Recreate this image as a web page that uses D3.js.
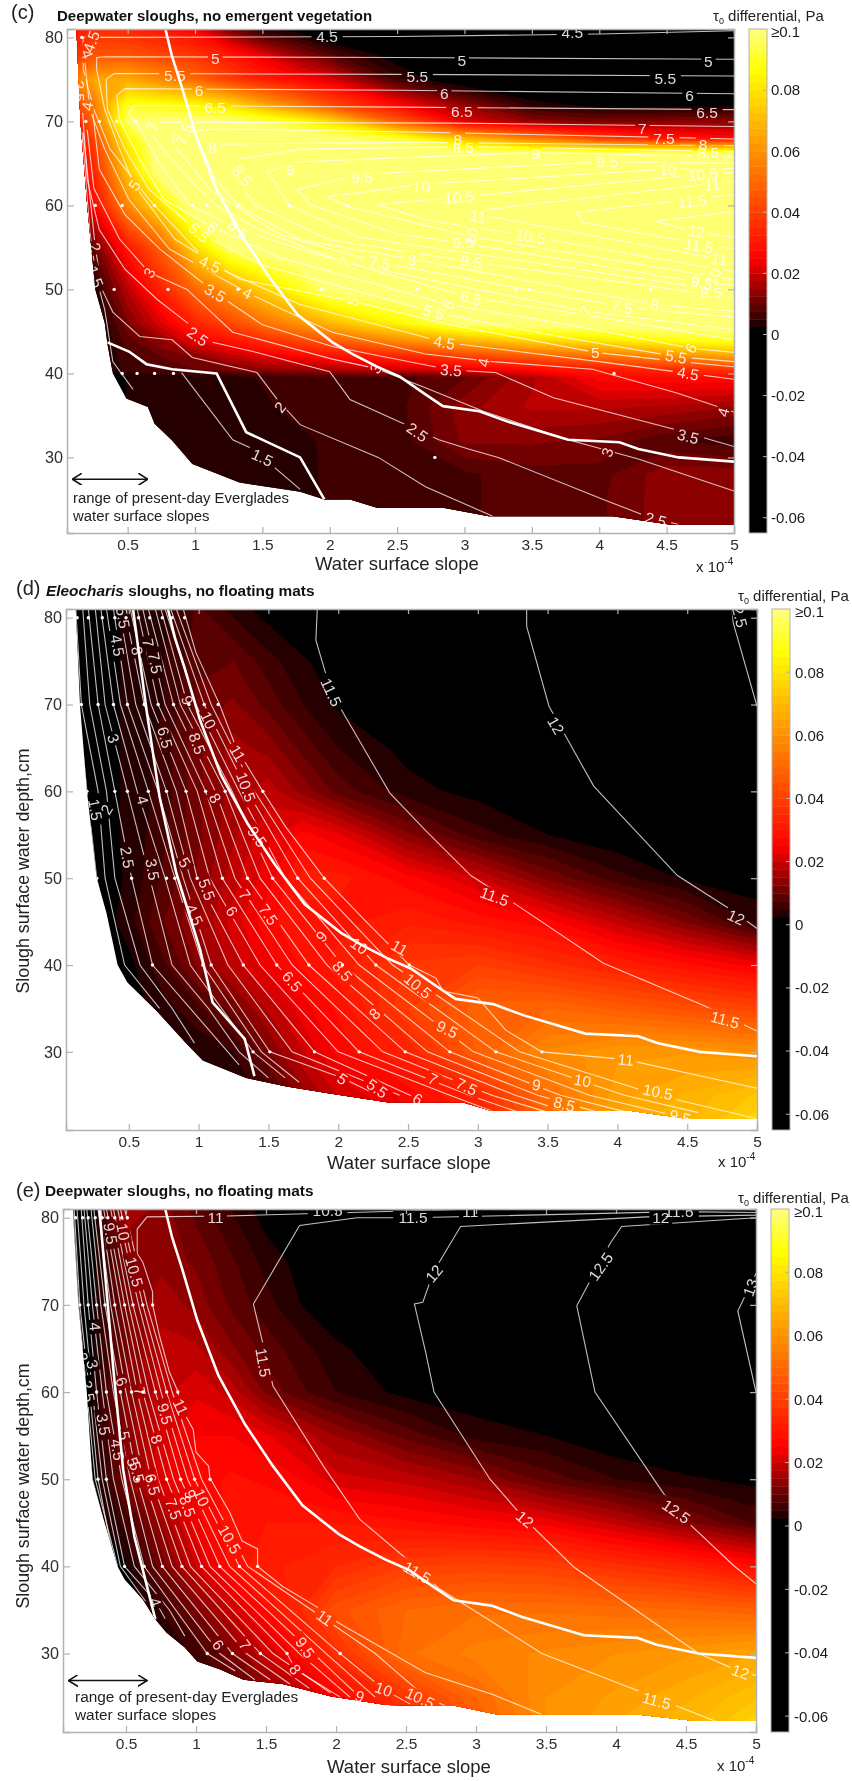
<!DOCTYPE html>
<html>
<head>
<meta charset="utf-8">
<script src="https://cdn.jsdelivr.net/npm/d3@7"></script>
<style>
html, body { margin: 0; background: #fff; }
svg { display: block; font-family: "Liberation Sans", Arial, sans-serif; filter: blur(0.45px); }
</style>
</head>
<body>
<div id="chart"></div>
<script>
const slopeTicks = [0.5, 1, 1.5, 2, 2.5, 3, 3.5, 4, 4.5, 5];
const depthTicks = [30, 40, 50, 60, 70, 80];
const colorTicks = [-0.06, -0.04, -0.02, 0, 0.02, 0.04, 0.06, 0.08];

// differential grids are in Pa x 1000
const gridSlopes = [0.1, 0.25, 0.5, 0.75, 1, 1.25, 1.5, 1.75, 2, 2.5, 3, 3.5, 4, 4.5, 5];
const cGridDepths = [81, 78, 75, 72, 70, 68, 66, 64, 60, 55, 50, 46, 44, 42, 40.5, 39.5, 36, 32, 28, 25, 21];
const cGrid = [
    [30, 36, 34, 30, 25, 12, 3, 1, -5, -5, -5, -5, -5, -5, -5],
    [35, 44, 45, 41, 37, 30, 22, 14, 8, 0, -5, -5, -5, -5, -5],
    [55, 65, 66, 58, 50, 40, 32, 27, 22, 6, -2, -5, -5, -5, -5],
    [40, 55, 90, 88, 85, 78, 66, 55, 43, 26, 14, 4, 1, 1, 1],
    [28, 50, 98, 100, 100, 100, 95, 88, 78, 48, 22, 14, 12, 13, 14],
    [25, 42, 85, 105, 105, 105, 105, 105, 100, 92, 70, 55, 40, 30, 27],
    [22, 36, 78, 105, 105, 105, 105, 105, 105, 105, 105, 105, 105, 105, 105],
    [20, 34, 72, 105, 105, 105, 105, 105, 105, 105, 105, 105, 105, 105, 105],
    [16, 26, 58, 80, 105, 105, 105, 105, 105, 105, 105, 105, 105, 105, 105],
    [4, 10, 30, 48, 78, 98, 105, 105, 105, 105, 105, 105, 105, 105, 105],
    [0, 3, 18, 33, 50, 62, 75, 88, 100, 105, 105, 105, 105, 105, 105],
    [0, 0, 12, 22, 33, 42, 52, 60, 70, 85, 100, 103, 105, 105, 105],
    [0, 0, 9, 15, 24, 30, 36, 42, 48, 60, 70, 78, 82, 88, 92],
    [0, 0, 7, 10, 13, 18, 22, 25, 28, 33, 40, 46, 52, 58, 64],
    [0, 0, 6, 8, 10, 12, 14, 15, 17, 20, 23, 27, 31, 35, 38],
    [0, 0, 2.6, 3, 3, 3, 5.5, 6.5, 6.5, 6.5, 10, 17, 26, 27, 27],
    [0, 0, 2.6, 3, 3, 3, 4, 6.5, 6.5, 6.5, 14, 18, 18, 17, 15],
    [0, 0, 3, 3, 3, 3, 3, 3.5, 6, 6, 13, 13, 12, 8, 6],
    [3, 3, 3, 3, 3, 3, 3, 3, 6, 6.5, 7, 9, 9, 14, 14],
    [3, 3, 3, 3, 3, 3, 3, 3, 6, 6.5, 7, 9, 9.5, 14, 14],
    [3, 3, 3, 3, 3, 3, 3, 3, 6, 6.5, 7, 9, 9.5, 14, 14]
];
const dGridDepths = [81, 75, 70, 65, 60, 55, 50, 45, 40, 35, 30, 25, 21];
const dGrid = [
    [0, 1, 3, 4, 8, 4, 1, -2, -5, -5, -5, -5, -5, -5, -5],
    [0, 1, 3, 5, 9, 10, 6, 3, 0.5, -5, -5, -5, -5, -5, -5],
    [0, 1, 3, 5, 11, 13, 9, 5, 2, -1, -5, -5, -5, -5, -5],
    [0, 1, 3, 6, 12, 16, 14, 9, 5, 1.5, -2, -5, -5, -5, -5],
    [0, 1, 3, 6, 12, 16, 19, 14, 9, 3.5, 1.5, -2, -5, -5, -5],
    [0, 1, 3, 7, 12, 17, 22, 26, 23, 13, 6, 2.5, 0, -2, -3],
    [0, 0, 3, 8, 13, 19, 24, 31, 31, 26, 20, 12, 6, 2, 1],
    [0, 0, 4, 10, 15, 21, 27, 29, 29, 32, 29, 26, 19, 12, 4],
    [0, -1, 1.5, 7, 13, 19, 24, 28, 31, 38, 40, 36, 32, 28, 24],
    [0, 0, 1, 4, 7, 11, 18, 24, 28, 40, 49, 50, 47, 44, 41],
    [0, 0, 0, 1, 3, 5, 12, 20, 26, 33, 48, 58, 62, 62, 60],
    [0, 0, 0, 0, 2, 3, 6, 14, 20, 26, 34, 52, 64, 68, 73],
    [0, 0, 0, 0, 2, 3, 6, 12, 18, 24, 30, 50, 66, 70, 78]
];
const eGridDepths = dGridDepths;
const eGrid = [
    [0, 1, 17, 14, 9, 5, 1, -3, -5, -5, -5, -5, -5, -5, -5],
    [0, 1, 12, 14, 12, 8, 4, 1.5, -1, -5, -5, -5, -5, -5, -5],
    [0, 1.5, 12, 17, 14, 9.5, 6, 2.5, 0.5, -2, -5, -5, -5, -5, -5],
    [0, 1.5, 12, 18, 18, 13, 9, 6, 3, 0.5, -3, -5, -5, -5, -5],
    [0, 2, 13, 19, 22, 19, 12, 8, 5, 1.5, 0.5, -3, -5, -5, -5],
    [0, 2, 13, 21, 25, 25, 23, 19, 15, 9, 4, 2.5, 0, -2, -4],
    [0, 0, 12, 22, 26, 28, 27, 25, 21, 19, 15, 9, 5, 3, 1.5],
    [0, 0, 6, 15, 24, 29, 30, 30, 30, 28, 26, 24, 19, 13, 7],
    [0, 0, 2, 11, 20, 28, 32, 33, 35, 40, 41, 40, 36, 33, 28],
    [0, 0, 0, 5, 12, 20, 27, 35, 44, 50, 52, 52, 51, 50, 48],
    [0, 0, 0, 1, 6, 12, 20, 27, 36, 52, 56, 58, 60, 62, 65],
    [0, 0, 0, 0, 3, 7, 12, 18, 26, 38, 50, 60, 63, 67, 72],
    [0, 0, 0, 0, 3, 6, 10, 16, 20, 32, 46, 60, 66, 70, 78]
];

// edge of the computed region, [slope, depth]
const cEdge = [[0.12, 81], [0.15, 70], [0.2, 60], [0.26, 50], [0.33, 46], [0.35, 43.5], [0.39, 40], [0.49, 37], [0.65, 36], [0.7, 34], [0.83, 32], [0.98, 29.2], [1.33, 27], [1.78, 25.9], [1.96, 25], [2.15, 25], [2.35, 24], [2.84, 24], [3.18, 23], [4.1, 23], [4.52, 22], [5, 22], [5, 81]];
const dEdge = [[0.12, 81], [0.15, 70], [0.2, 60], [0.27, 50], [0.34, 46], [0.42, 40], [0.49, 38], [0.7, 34.7], [0.91, 31], [1.03, 29], [1.34, 27], [1.63, 26], [1.94, 25.2], [2.35, 24.2], [2.89, 24.2], [3.1, 23.2], [4.1, 23.2], [4.5, 22.3], [5, 22.3], [5, 81]];
const eEdge = [[0.12, 81], [0.16, 70], [0.22, 60], [0.26, 50], [0.34, 45.4], [0.44, 40], [0.49, 38.5], [0.62, 36.2], [0.71, 33.9], [0.79, 32.4], [0.92, 30.7], [1.01, 29.1], [1.17, 28.2], [1.34, 27], [1.62, 26.5], [1.96, 25.1], [2.36, 24.1], [2.85, 24], [3.15, 23], [4.15, 23], [4.55, 22.3], [5, 22.3], [5, 81]];

// heavy white lines
const sharedHeavyLine = [[0.78, 81], [0.83, 77.7], [0.9, 74.2], [1.01, 68.2], [1.16, 61.9], [1.35, 56.3], [1.55, 51.5], [1.76, 47], [2.02, 43.7], [2.17, 42.3], [2.35, 40.8], [2.52, 39.6], [2.71, 37.5], [2.84, 36.1], [3.11, 35.5], [3.33, 34.2], [3.77, 32.1], [4.15, 31.8], [4.29, 31], [4.59, 30], [5, 29.5]];
const cHeavyLine = [[0.35, 43.7], [0.51, 42.6], [0.64, 41.1], [0.83, 40.5], [1.16, 40], [1.38, 33], [1.78, 30], [1.96, 25]];
const dHeavyLine = [[0.53, 81], [0.63, 69], [0.72, 59.4], [0.84, 50.6], [1.01, 41.8], [1.1, 35.7], [1.33, 31.5], [1.4, 27.2]];
const eHeavyLine = [[0.31, 81], [0.41, 62.6], [0.48, 51.1], [0.56, 43.4], [0.65, 37.7], [0.71, 33.9]];

// thin contours: velocity level, then [slope, depth] vertices
const cContours = [
    [1.5, [[0.16, 68.7], [0.22, 56.8], [0.27, 51.2], [0.33, 47.6], [0.39, 41.4], [0.54, 38.1]]],
    [1.5, [[0.9, 40.1], [1.28, 32.1], [1.43, 31], [1.78, 26.2]]],
    [2, [[0.17, 68.7], [0.26, 55], [0.31, 50], [0.39, 47.3], [0.59, 44.4], [0.83, 44], [0.98, 41.9], [1.46, 40.1], [1.61, 36.9], [1.78, 33.9], [2.36, 30], [2.71, 26.5], [3.21, 23]]],
    [2.5, [[0.16, 72.6], [0.2, 63.1], [0.29, 57.1], [0.48, 52.4], [0.72, 48.8], [0.96, 45.8], [1.13, 43.7], [1.43, 42.6], [2, 40.2], [2.15, 36.9], [2.59, 33.7], [2.81, 32.1], [3.03, 31], [3.25, 30], [4.03, 25], [4.35, 23], [4.59, 22]]],
    [3, [[0.2, 69], [0.25, 62], [0.44, 56], [0.66, 52], [0.94, 50], [1.28, 44.9], [2.02, 41.7], [2.34, 40.6], [2.71, 38.3], [3.14, 35.5], [3.77, 32.1], [4.29, 29.8], [5, 26]]],
    [3.5, [[0.23, 72.6], [0.29, 64.3], [0.48, 58.9], [0.74, 54.8], [1.15, 49.6], [1.5, 45.8], [2.02, 43.2], [2.9, 40.4], [3.23, 40.1], [3.66, 37.1], [4.57, 33.3], [5, 31.3]]],
    [4, [[0.18, 77.4], [0.22, 71.4], [0.33, 66.7], [0.51, 60.7], [0.81, 54.8], [1.39, 49.6], [1.65, 47.6], [2.02, 44.9], [2.71, 42.3], [3.21, 41.4], [3.95, 40.5], [4.57, 37.7], [5, 35.4]]],
    [4.5, [[5, 80.8], [4, 80.4], [2.5, 80.1], [0.29, 80], [0.17, 80], [0.17, 76.2], [0.25, 71.4], [0.37, 66.7], [0.66, 60.7], [1.11, 53], [1.78, 48.2], [2.85, 43.7], [4, 41.4], [4.66, 40], [5, 39.3]]],
    [5, [[5, 77.4], [2.52, 77.6], [0.33, 77.7], [0.27, 77.6], [0.27, 76.2], [0.33, 71.4], [0.44, 66.7], [0.55, 62.4], [0.85, 56], [1.33, 51.2], [2.17, 48.6], [2.89, 45.8], [3.97, 42.5], [4.6, 41.4], [5, 40.8]]],
    [5.5, [[5, 75.4], [2.52, 75.6], [0.4, 75.7], [0.34, 75], [0.35, 71.4], [0.48, 66.7], [0.66, 61.9], [1.03, 56.8], [1.48, 53], [2.77, 47.3], [3.63, 44.6], [4.57, 42], [5, 41.4]]],
    [6, [[5, 73.3], [2.52, 73.7], [0.48, 73.9], [0.42, 73.1], [0.44, 70.2], [0.59, 65.5], [0.77, 60.7], [1.13, 57.4], [1.63, 53.8], [2.88, 48.2], [3.78, 45.8], [4.68, 43], [5, 42.5]]],
    [6.5, [[5, 71.4], [2.52, 71.7], [0.55, 71.9], [0.5, 70.8], [0.56, 70], [0.74, 64.9], [0.96, 60.1], [1.33, 57.1], [1.78, 54.8], [3.05, 49], [4, 46.7], [5, 44]]],
    [7, [[5, 69.4], [2.89, 69.8], [0.66, 69.9], [0.7, 67.9], [0.96, 63.1], [1.15, 60.1], [1.48, 57.1], [2.11, 53.2], [3.9, 47.4], [5, 45.2]]],
    [7.5, [[5, 67.9], [4.49, 68.1], [2.71, 68.7], [1.15, 69.1], [0.85, 68.5], [0.83, 67.5], [1.11, 61.9], [1.63, 56.5], [2.37, 53.2], [4.17, 47.9], [5, 46.7]]],
    [8, [[5, 67.1], [2.71, 67.5], [1.16, 67.3], [1.07, 66.1], [1.15, 63.1], [1.32, 60], [1.78, 55.9], [2.61, 53.6], [4.41, 48.2], [5, 47.4]]],
    [8.5, [[5, 66.4], [3.05, 67], [1.78, 66.7], [1.33, 65.5], [1.3, 63.7], [1.44, 60.1], [2, 55.9], [3.05, 53.3], [4.83, 49.4], [5, 49]]],
    [9, [[5, 65.8], [3.52, 66.3], [1.78, 65.2], [1.54, 64], [1.7, 60], [2.22, 56.2], [3.26, 53.8], [4.84, 50], [5, 49.8]]],
    [9.5, [[5, 65], [4.06, 65.2], [2.24, 63.7], [1.76, 61.9], [1.85, 60.1], [2.52, 56.5], [2.96, 55.6], [4.76, 50.8], [5, 50.5]]],
    [10, [[5, 64.4], [4.49, 64.3], [2.67, 62.5], [1.98, 61], [2.15, 59.8], [3.05, 56.3], [4.85, 51.5], [5, 51.2]]],
    [10.5, [[5, 63.9], [4.77, 63.7], [2.96, 61], [2.35, 60.1], [2.71, 58.3], [3.49, 56.3], [5, 52.1]]],
    [11, [[5, 62.9], [3.16, 59.5], [3.08, 59], [3.18, 58.7], [4.89, 53.6], [5, 53.2]]],
    [11.5, [[5, 61.3], [3.83, 59.2], [3.88, 58], [4.74, 55.4], [5, 54.8]]],
    [12, [[5, 59.3], [4.42, 58.1], [4.7, 56.9], [5, 56.2]]]
];
const dContours = [
    [1.5, [[0.11, 81], [0.14, 70], [0.2, 60], [0.27, 50], [0.4, 40]]],
    [2, [[0.12, 81], [0.16, 70], [0.28, 60], [0.33, 50], [0.47, 40], [0.72, 35]]],
    [2.5, [[0.17, 81], [0.22, 70], [0.34, 60], [0.4, 50], [0.58, 40], [0.81, 35], [0.97, 31]]],
    [3, [[0.21, 81], [0.28, 70], [0.4, 60], [0.52, 50], [0.67, 40], [0.94, 35], [1.29, 28.5]]],
    [3.5, [[0.26, 81], [0.33, 70], [0.49, 60], [0.65, 50], [0.81, 40], [1.07, 35], [1.29, 30], [1.5, 27]]],
    [4, [[0.3, 81], [0.39, 70], [0.56, 60], [0.76, 50], [0.94, 40], [1.39, 30], [1.62, 27]]],
    [4.5, [[0.34, 81], [0.44, 70], [0.64, 60], [0.83, 50], [1.03, 40], [1.45, 30], [1.72, 26.5]]],
    [5, [[0.39, 81], [0.49, 70], [0.71, 60], [0.89, 50], [1.09, 40], [1.51, 30], [2.03, 27], [2.22, 25.5]]],
    [5.5, [[0.43, 81], [0.55, 70], [0.77, 60], [0.94, 50], [1.21, 40], [1.67, 30], [2.44, 25]]],
    [6, [[0.47, 81], [0.61, 70], [0.84, 60], [0.99, 50], [1.32, 40], [1.83, 30], [2.57, 24.6]]],
    [6.5, [[0.51, 81], [0.66, 70], [0.91, 60], [1.08, 50], [1.44, 40], [2, 30], [2.8, 25], [3.1, 23.2]]],
    [7, [[0.56, 81], [0.71, 70], [0.99, 60], [1.17, 50], [1.56, 40], [2.15, 30], [2.94, 25], [3.3, 23]]],
    [7.5, [[0.6, 81], [0.76, 70], [1.05, 60], [1.26, 50], [1.67, 40], [2.32, 30], [3.1, 25], [3.51, 23]]],
    [8, [[0.64, 81], [0.82, 70], [1.12, 60], [1.35, 50], [1.79, 40], [2.48, 30], [3.27, 25], [3.65, 23]]],
    [8.5, [[0.69, 81], [0.87, 70], [1.19, 60], [1.44, 50], [1.92, 40], [2.64, 30], [3.43, 25], [3.87, 23]]],
    [9, [[0.73, 81], [0.92, 70], [1.24, 60], [1.53, 50], [2.03, 40], [2.8, 30], [3.59, 25], [4.08, 23]]],
    [9.5, [[0.76, 81], [0.98, 70], [1.29, 60], [1.62, 50], [2.15, 40], [2.97, 30], [3.8, 25], [4.45, 22.5]]],
    [10, [[0.8, 81], [1.04, 70], [1.35, 60], [1.71, 50], [2.27, 40], [3.13, 30], [4.05, 25], [4.58, 23]]],
    [10.5, [[0.84, 81], [1.09, 70], [1.4, 60], [1.8, 50], [2.39, 40], [3.3, 30], [4.29, 25], [5, 22.3]]],
    [11, [[0.89, 81], [0.98, 76], [1.15, 70], [1.27, 65], [1.46, 60], [1.62, 56], [1.9, 50], [2.2, 45], [2.51, 40], [2.7, 38.5], [2.75, 37], [3, 36.2], [3.2, 32.5], [3.46, 30], [4.06, 29.1], [5, 25.8]]],
    [11.5, [[1.85, 81], [1.84, 77.4], [1.95, 71.4], [2.37, 59.8], [2.62, 55.6], [2.95, 50.3], [3.28, 46.9], [3.9, 40.2], [4.61, 35.4], [5, 32.4]]],
    [12, [[3.35, 81], [3.35, 79], [3.51, 69.8], [3.83, 60.6], [4.43, 50.3], [4.83, 46.2], [5, 44.2]]],
    [12.5, [[4.82, 81], [4.83, 79.4], [5, 69.8]]]
];
const eContours = [
    [2, [[0.11, 81], [0.14, 70], [0.2, 60], [0.26, 50], [0.42, 40]]],
    [2.5, [[0.12, 81], [0.16, 70], [0.22, 60], [0.28, 50], [0.44, 40]]],
    [3, [[0.13, 81], [0.17, 70], [0.24, 60], [0.3, 50], [0.42, 40]]],
    [3.5, [[0.15, 81], [0.2, 70], [0.26, 60], [0.33, 50], [0.46, 40], [0.64, 36]]],
    [4, [[0.18, 81], [0.23, 70], [0.29, 60], [0.36, 50], [0.49, 40], [0.71, 36], [0.78, 34]]],
    [4.5, [[0.2, 81], [0.26, 70], [0.33, 60], [0.41, 50], [0.56, 40], [0.81, 35], [0.92, 32]]],
    [5, [[0.22, 81], [0.29, 70], [0.36, 60], [0.47, 50], [0.63, 40], [1.08, 30], [1.28, 28]]],
    [5.5, [[0.25, 81], [0.32, 70], [0.41, 60], [0.53, 50], [0.69, 40], [1.17, 30], [1.42, 27]]],
    [6, [[0.27, 81], [0.35, 70], [0.46, 60], [0.58, 50], [0.76, 40], [1.26, 30], [1.53, 27]]],
    [6.5, [[0.3, 81], [0.39, 70], [0.5, 60], [0.63, 50], [0.83, 40], [1.36, 30], [1.67, 26.5]]],
    [7, [[0.32, 81], [0.42, 70], [0.54, 60], [0.68, 50], [0.9, 40], [1.46, 30], [1.81, 26]]],
    [7.5, [[0.34, 81], [0.46, 70], [0.58, 60], [0.73, 50], [0.96, 40], [1.55, 30], [1.96, 25.5]]],
    [8, [[0.36, 81], [0.49, 70], [0.62, 60], [0.79, 50], [1.04, 40], [1.65, 30], [1.71, 28.2], [2.03, 25]]],
    [8.5, [[0.39, 81], [0.52, 70], [0.66, 60], [0.84, 50], [1.1, 40], [1.74, 30], [2.1, 25]]],
    [9, [[0.41, 81], [0.55, 70], [0.71, 60], [0.89, 50], [1.17, 40], [1.84, 30], [2.17, 25]]],
    [9.5, [[0.44, 81], [0.59, 70], [0.75, 60], [0.94, 50], [1.24, 40], [1.93, 30], [2.28, 25]]],
    [10, [[0.46, 81], [0.62, 70], [0.79, 60], [0.99, 50], [1.31, 40], [2.03, 30], [2.34, 25.9], [2.53, 24.2]]],
    [10.5, [[0.49, 81], [0.65, 70], [0.83, 60], [1.04, 50], [1.37, 40], [2.28, 30], [2.64, 25], [2.78, 24]]],
    [11, [[3, 81], [1.22, 80.2], [0.65, 80.1], [0.58, 78.7], [0.58, 75.9], [0.62, 74.9], [0.69, 71.5], [0.69, 70], [0.74, 66.4], [0.81, 62.3], [0.87, 60.1], [0.89, 58.3], [0.98, 55.7], [1, 53.1], [1.09, 51.5], [1.1, 50.1], [1.24, 46.2], [1.33, 42.9], [1.44, 42], [1.44, 40], [1.62, 37.7], [1.89, 35.1], [2.01, 33.6], [2.64, 27.8], [3.12, 25.3], [3.47, 23]]],
    [11.5, [[5, 80.6], [4.45, 80.7], [2.55, 80], [2.15, 80], [1.74, 79.1], [1.41, 70.1], [1.47, 66.1], [1.55, 60.7], [1.91, 51.5], [2.17, 45.4], [2.53, 40.5], [2.74, 37.4], [3.1, 33.8], [3.47, 30], [4.13, 25.9], [4.78, 21.8]]],
    [12, [[5, 80.3], [4.22, 80.1], [2.89, 79], [2.7, 73.9], [2.62, 70.3], [2.56, 70.1], [2.64, 64.6], [2.7, 60], [3.1, 50], [3.35, 45.4], [3.7, 39.9], [4.59, 30], [4.89, 27.9], [5, 27.5]]],
    [12.5, [[5, 80], [4.04, 79], [3.96, 77.1], [3.72, 69.9], [3.85, 60], [4.3, 49.3], [4.43, 46.3], [4.84, 40.1], [5, 38]]],
    [13, [[5, 73.6], [4.87, 69.3], [5, 60]]]
];

// contour labels: text, slope, depth, rotation
const cLabels = [
    ["4.5", 1.98, 80.1, 0], ["4.5", 3.8, 80.6, 0], ["5", 1.15, 77.5, 0], ["5", 2.98, 77.3, 0], ["5", 4.81, 77.1, 0],
    ["5.5", 0.85, 75.5, 0], ["5.5", 2.65, 75.4, 0], ["5.5", 4.49, 75.1, 0], ["6", 1.03, 73.7, 0], ["6", 2.85, 73.3, 0], ["6", 4.67, 73.1, 0],
    ["6.5", 1.15, 71.7, 0], ["6.5", 2.98, 71.2, 0], ["6.5", 4.8, 71.1, 0], ["7", 0.68, 69.4, -70], ["7", 4.32, 69.2, 0],
    ["7.5", 4.48, 68, 0], ["7.5", 0.92, 68.5, -65], ["8", 1.13, 66.9, 0], ["8", 2.95, 67.9, 0], ["8", 4.77, 67.3, 0],
    ["8.5", 2.99, 66.9, 0], ["8.5", 4.81, 66.3, 0], ["8.5", 1.35, 63.5, 50], ["9", 1.71, 64.3, 0], ["9", 3.53, 66.2, 0],
    ["9.5", 2.24, 63.3, 0], ["9.5", 4.06, 65.2, 0], ["10", 2.68, 62.3, 0], ["10", 4.51, 64.3, 0], ["10.5", 2.96, 61, -3], ["10.5", 4.77, 63.7, -5],
    ["11", 3.1, 58.7, 10], ["11", 4.84, 62.5, -5], ["11.5", 4.69, 60.5, -5], ["12", 4.72, 56.9, 10], ["11.5", 4.74, 55.2, 10], ["10.5", 3.49, 56.3, 8],
    ["10", 3.05, 56.3, -75], ["9.5", 2.99, 55.6, 0], ["11", 4.89, 53.6, 10], ["10", 4.85, 51.5, -70], ["9.5", 4.76, 50.8, 10], ["8.5", 4.83, 49.6, 0],
    ["8.5", 3.05, 53.3, 10], ["8", 2.61, 53.6, 0], ["8", 4.41, 48.2, 8], ["7.5", 2.37, 53.2, 10], ["7.5", 4.17, 47.9, 10], ["7", 2.11, 53.2, -60], ["7", 3.9, 47.4, -60],
    ["6.5", 3.05, 49, 15], ["6", 2.88, 48.2, -60], ["6", 4.68, 43, -60], ["5.5", 2.77, 47.3, 15], ["5.5", 4.57, 42, 10], ["5", 2.17, 48.6, -70], ["5", 3.97, 42.5, 0], ["5", 0.55, 62.4, -55],
    ["5.5", 1.03, 56.8, 40], ["6", 1.13, 57.4, 40], ["6.5", 1.32, 57.1, 40], ["4.5", 1.11, 53, 25], ["4.5", 2.85, 43.7, 10], ["4.5", 4.66, 40, 10],
    ["4", 1.39, 49.6, 30], ["4", 3.14, 41.3, -80], ["4", 4.92, 35.4, -75], ["3.5", 1.15, 49.6, 30], ["3.5", 2.9, 40.4, 5], ["3.5", 4.66, 32.5, 15],
    ["3", 0.66, 52, -60], ["3", 2.34, 40.6, -60], ["3", 4.06, 30.6, -70], ["2.5", 1.02, 44.4, 35], ["2.5", 2.65, 33, 35], ["2.5", 4.42, 22.6, 15],
    ["2", 0.26, 55, 70], ["2", 1.63, 36, -50], ["1.5", 0.26, 51.5, 70], ["1.5", 1.5, 30, 25], ["4.5", 0.23, 79.5, -70], ["4", 0.2, 78, 70], ["2.5", 0.14, 73.6, 90], ["4", 0.2, 71.8, -80]
];
const dLabels = [
    ["1.5", 0.26, 57.9, 80], ["2", 0.34, 57.9, -60], ["2.5", 0.49, 52.4, 80], ["3", 0.39, 66.1, 70], ["3.5", 0.67, 51, 80], ["4", 0.6, 59, 75],
    ["4.5", 0.42, 76.8, 80], ["4.5", 0.97, 45.8, 65], ["5", 0.9, 51.8, 60], ["5", 2.03, 26.9, 35], ["5.5", 1.06, 48.7, 70], ["5.5", 2.28, 25.8, 35], ["5.5", 0.46, 80, 80],
    ["6", 1.24, 46.2, 60], ["6", 2.57, 24.6, 30], ["6.5", 0.76, 66.2, 75], ["6.5", 1.67, 38.1, 50], ["7", 0.64, 77.1, 80], ["7", 1.33, 48.1, 55], ["7", 2.68, 26.9, 25],
    ["7.5", 0.69, 74.8, 80], ["7.5", 1.5, 45.8, 55], ["7.5", 2.92, 26, 25], ["8", 0.56, 76.2, 80], ["8", 1.12, 59.2, 60], ["8", 2.26, 34.4, -45],
    ["8.5", 0.99, 65.5, 70], ["8.5", 2.03, 39.3, 50], ["8.5", 3.62, 24, 15], ["9", 0.92, 70.5, 70], ["9", 1.88, 43.3, -50], ["9", 3.42, 26.2, 10],
    ["9.5", 1.42, 54.8, 55], ["9.5", 2.78, 32.6, 25], ["9.5", 4.45, 22.5, 15], ["10", 1.07, 68.2, 65], ["10", 2.15, 42.2, 35], ["10", 3.75, 26.7, 10],
    ["10.5", 1.34, 60.5, 70], ["10.5", 2.57, 37.6, 40], ["10.5", 4.29, 25.4, 12], ["11", 1.28, 64.4, 60], ["11", 2.44, 42, 30], ["11", 4.06, 29.1, 5],
    ["11.5", 1.95, 71.4, 65], ["11.5", 3.12, 47.9, 20], ["11.5", 4.77, 33.7, 15], ["12", 3.56, 67.6, 60], ["12", 4.85, 45.5, 25], ["12.5", 4.87, 80.6, 75]
];
const eLabels = [
    ["11", 1.14, 80, 0], ["10.5", 1.94, 80.8, 0], ["11.5", 2.55, 80, 0], ["11", 2.96, 80.7, 0], ["12", 4.32, 80, 0], ["11.5", 4.45, 80.7, 0],
    ["11", 0.89, 58.3, 65], ["10.5", 0.56, 73.8, 75], ["10", 0.48, 78.4, 80], ["9.5", 0.39, 78.2, 80], ["2", 0.19, 64, 70], ["3", 0.26, 63.2, 75], ["2.5", 0.23, 60.1, 80],
    ["3.5", 0.34, 56.3, 80], ["4", 0.28, 67.5, 85], ["4.5", 0.44, 53.4, 80], ["5", 0.49, 55, 80], ["5", 0.55, 52, 70], ["6", 0.47, 61.2, 70], ["7", 0.6, 60.1, 80], ["8", 0.72, 54.6, 70], ["9.5", 0.78, 57.5, 75],
    ["5.5", 0.58, 50.8, 75], ["6.5", 0.69, 49.4, 75], ["7.5", 0.84, 46.6, 70], ["8.5", 0.94, 46.9, 70], ["9", 0.96, 48.3, 70], ["10", 1.04, 47.9, 65], ["10.5", 1.24, 43.1, 60],
    ["4", 0.71, 35.9, 70], ["6", 1.16, 31, 55], ["7", 1.35, 31, 55], ["8", 1.71, 28.2, 55], ["9.5", 1.78, 30.7, 55], ["9", 2.17, 25.1, 20], ["10", 2.34, 25.9, 20], ["10.5", 2.6, 24.9, 25],
    ["11", 1.92, 34.1, 35], ["11.5", 2.58, 39.3, 30], ["11.5", 4.29, 24.6, 15], ["12", 2.7, 73.6, -50], ["12", 3.35, 45.4, 40], ["12", 4.89, 27.9, 20],
    ["12.5", 3.89, 74.4, -55], ["12.5", 4.43, 46.3, 35], ["13", 4.96, 72, -70], ["11.5", 1.48, 63.4, 80]
];

// model run markers, [depth, slopes]
const cRuns = [[80, [0.16]], [70, [0.19, 0.29, 0.42, 0.56]], [60, [0.26, 0.46, 0.7, 0.98, 1.09, 1.32, 1.7, 2.13]], [50, [0.4, 0.8, 1.32, 1.94, 2.65, 3.38, 3.48, 4.38]], [40, [0.46, 0.57, 0.7, 0.84, 4.11]], [30, [2.78]]];
const dRuns = [[80, [0.13, 0.21, 0.31, 0.4, 0.48, 0.57, 0.65, 0.74, 0.81, 0.9]], [70, [0.16, 0.28, 0.39, 0.49, 0.61, 0.71, 0.82, 0.93, 1.04, 1.14]], [60, [0.2, 0.4, 0.49, 0.64, 0.77, 0.91, 1.05, 1.19, 1.46]], [50, [0.27, 0.52, 0.77, 0.83, 0.99, 1.17, 1.35, 1.53, 1.71, 1.9]], [40, [0.67, 1.03, 1.09, 1.32, 1.56, 1.79, 2.03, 2.27, 2.51]], [30, [1.39, 1.51, 1.83, 2.15, 2.48, 2.8, 3.13, 3.46]]];
const eRuns = [[80, [0.14, 0.19, 0.23, 0.28, 0.33, 0.37, 0.42, 0.47, 0.51]], [70, [0.17, 0.23, 0.29, 0.35, 0.42, 0.49, 0.55, 0.62, 0.69]], [60, [0.19, 0.29, 0.36, 0.46, 0.54, 0.62, 0.71, 0.79, 0.87]], [50, [0.3, 0.36, 0.58, 0.68, 0.79, 0.89, 0.99, 1.1]], [40, [0.49, 0.63, 0.76, 0.9, 1.04, 1.17, 1.31, 1.44]], [30, [1.08, 1.26, 1.46, 1.65, 2.03]]];

const presentDayRange = [0.09, 0.65];

const panels = [
    {id: "c", tag: "(c)", name: ["Deepwater sloughs, no emergent vegetation"], titleSize: 15, left: 67, right: 734, top: 29, bottom: 533,
     tagX: 11, tagY: 19, titleX: 57, titleY: 21, barX: 749, barW: 18, barLabelX: 771, barTitleX: 713, barTitleY: 21,
     xTitleX: 397, xTitleY: 570, powerX: 696, powerY: 572, yTitle: false,
     depths: cGridDepths, grid: cGrid, edge: cEdge, heavy: cHeavyLine, contours: cContours, labels: cLabels, runs: cRuns,
     arrowDepth: 27.4, noteX: 73, noteY: 503, noteSize: 14.9},
    {id: "d", tag: "(d)", name: ["Eleocharis", " sloughs, no floating mats"], titleSize: 15.4, left: 66, right: 757, top: 609, bottom: 1130,
     tagX: 16, tagY: 595, titleX: 46, titleY: 596, barX: 772, barW: 18, barLabelX: 795, barTitleX: 738, barTitleY: 601,
     xTitleX: 409, xTitleY: 1169, powerX: 718, powerY: 1167, yTitle: true, yTitleY: 871,
     depths: dGridDepths, grid: dGrid, edge: dEdge, heavy: dHeavyLine, contours: dContours, labels: dLabels, runs: dRuns},
    {id: "e", tag: "(e)", name: ["Deepwater sloughs, no floating mats"], titleSize: 15.4, left: 63, right: 756, top: 1209, bottom: 1732,
     tagX: 16, tagY: 1197, titleX: 45, titleY: 1196, barX: 771, barW: 18, barLabelX: 794, barTitleX: 738, barTitleY: 1203,
     xTitleX: 409, xTitleY: 1773, powerX: 717, powerY: 1771, yTitle: true, yTitleY: 1486,
     depths: eGridDepths, grid: eGrid, edge: eEdge, heavy: eHeavyLine, contours: eContours, labels: eLabels, runs: eRuns,
     arrowDepth: 26.9, noteX: 75, noteY: 1702, noteSize: 15.4}
];

const bandStep = 2.5;
const bands = d3.range(2.5, 100, bandStep);

function hot(v) {
    let r = Math.min(1, Math.max(0, v / 25));
    let g = Math.min(1, Math.max(0, (v - 25) / 61.6));
    let b = Math.min(1, Math.max(0, (v - 86.6) / 13.4)) * 0.5;
    return d3.rgb(r * 255, g * 255, b * 255).formatHex();
}

const svg = d3.select("#chart").append("svg")
    .attr("width", 852)
    .attr("height", 1781);

panels.forEach(drawPanel);

function drawPanel(p) {
    let x = d3.scaleLinear().domain([0.05, 5]).range([p.left, p.right]);
    let y = d3.scaleLinear().domain([21, 81]).range([p.bottom, p.top]);
    let line = d3.line().x(d => x(d[0])).y(d => y(d[1]));

    let g = svg.append("g").attr("class", "panel-" + p.id);
    let defs = g.append("defs");

    // computed region only, the rest of the frame stays white
    let edgeCorner = [[p.edge[0][0], 81]].concat(p.edge);
    defs.append("clipPath").attr("id", "edge-" + p.id)
        .append("path").attr("d", line(edgeCorner) + "Z");
    defs.append("clipPath").attr("id", "frame-" + p.id)
        .append("rect")
        .attr("x", p.left).attr("y", p.top)
        .attr("width", p.right - p.left).attr("height", p.bottom - p.top);

    let colIndex = d3.scaleLinear().domain(d3.range(gridSlopes.length)).range(gridSlopes);
    let rowIndex = d3.scaleLinear().domain(d3.range(p.depths.length)).range(p.depths);
    let project = d3.geoTransform({
        point: function (cx, cy) {
            this.stream.point(x(colIndex(cx - 0.5)), y(rowIndex(cy - 0.5)));
        }
    });
    let contourPath = d3.geoPath(project);
    let bandShapes = d3.contours()
        .size([gridSlopes.length, p.depths.length])
        .thresholds(bands)(p.grid.flat());

    let field = g.append("g").attr("clip-path", "url(#edge-" + p.id + ")");
    field.append("rect")
        .attr("x", p.left).attr("y", p.top)
        .attr("width", p.right - p.left).attr("height", p.bottom - p.top)
        .attr("fill", "#000");
    field.selectAll("path")
        .data(bandShapes)
        .enter().append("path")
        .attr("d", contourPath)
        .attr("fill", d => hot(d.value + bandStep / 2))
        .attr("stroke", d => hot(d.value + bandStep / 2))
        .attr("stroke-width", 0.3);

    // thin lines stop short of their labels
    let mask = defs.append("mask").attr("id", "gaps-" + p.id)
        .attr("maskUnits", "userSpaceOnUse")
        .attr("x", 0).attr("y", 0).attr("width", 852).attr("height", 1781);
    mask.append("rect").attr("width", 852).attr("height", 1781).attr("fill", "#fff");
    mask.selectAll("rect.gap")
        .data(p.labels)
        .enter().append("rect")
        .attr("class", "gap")
        .attr("x", d => -d[0].length * 4.2 - 3)
        .attr("y", -7)
        .attr("width", d => d[0].length * 8.4 + 6)
        .attr("height", 14)
        .attr("fill", "#000")
        .attr("transform", d => "translate(" + x(d[1]) + "," + y(d[2]) + ")rotate(" + d[3] + ")");

    field.append("g")
        .attr("mask", "url(#gaps-" + p.id + ")")
        .selectAll("path")
        .data(p.contours)
        .enter().append("path")
        .attr("d", d => line(d[1]))
        .attr("fill", "none")
        .attr("stroke", "#fff")
        .attr("stroke-opacity", 0.75)
        .attr("stroke-width", 1.1);

    field.append("g")
        .selectAll("path")
        .data([sharedHeavyLine, p.heavy])
        .enter().append("path")
        .attr("d", line)
        .attr("fill", "none")
        .attr("stroke", "#fff")
        .attr("stroke-width", 2.6);

    let runPoints = p.runs.flatMap(r => r[1].map(s => [s, r[0]]));
    field.append("g")
        .selectAll("circle")
        .data(runPoints)
        .enter().append("circle")
        .attr("cx", d => x(d[0]))
        .attr("cy", d => y(d[1]))
        .attr("r", 1.7)
        .attr("fill", "#fff");

    g.append("g")
        .attr("clip-path", "url(#frame-" + p.id + ")")
        .selectAll("text")
        .data(p.labels)
        .enter().append("text")
        .attr("transform", d => "translate(" + x(d[1]) + "," + y(d[2]) + ")rotate(" + d[3] + ")")
        .attr("text-anchor", "middle")
        .attr("dy", ".36em")
        .attr("font-size", 15.5)
        .attr("fill", "#fff")
        .attr("fill-opacity", 0.85)
        .text(d => d[0]);

    // frame and ticks
    let axisBottom = d3.axisBottom(x).tickValues(slopeTicks).tickSize(-6).tickPadding(6).tickFormat(d => String(d));
    let axisLeft = d3.axisLeft(y).tickValues(depthTicks).tickSize(-7).tickPadding(4);
    let axisTop = d3.axisTop(x).tickValues(slopeTicks).tickSize(-5).tickFormat("");
    let axisRight = d3.axisRight(y).tickValues(depthTicks).tickSize(-6).tickFormat("");
    [[axisBottom, 0, p.bottom], [axisLeft, p.left, 0], [axisTop, 0, p.top], [axisRight, p.right, 0]].forEach(function (a) {
        let ag = g.append("g")
            .attr("transform", "translate(" + a[1] + "," + a[2] + ")")
            .call(a[0]);
        ag.selectAll("path,line").attr("stroke", "#b2b2b2").attr("stroke-width", 1.2);
        ag.selectAll("text").attr("font-size", a[0] === axisLeft ? 16.2 : 15.5).attr("fill", "#2e2e2e")
            .attr("font-family", '"Liberation Sans", Arial, sans-serif');
        ag.selectAll(".domain").attr("stroke-width", 1.5);
    });

    // titles
    g.append("text").attr("x", p.tagX).attr("y", p.tagY).attr("font-size", 20).attr("fill", "#222").text(p.tag);
    let title = g.append("text").attr("x", p.titleX).attr("y", p.titleY)
        .attr("font-size", p.titleSize).attr("font-weight", "bold").attr("fill", "#111");
    p.name.forEach(function (part, i) {
        title.append("tspan")
            .attr("font-style", p.name.length > 1 && i === 0 ? "italic" : null)
            .text(part);
    });

    g.append("text").attr("x", p.xTitleX).attr("y", p.xTitleY)
        .attr("text-anchor", "middle").attr("font-size", 18.5).attr("fill", "#222")
        .text("Water surface slope");
    let power = g.append("text").attr("x", p.powerX).attr("y", p.powerY)
        .attr("font-size", 15).attr("fill", "#222").text("x 10");
    power.append("tspan").attr("dy", -7).attr("font-size", 10).text("-4");

    if (p.yTitle) {
        g.append("text")
            .attr("transform", "translate(29," + p.yTitleY + ")rotate(-90)")
            .attr("text-anchor", "middle").attr("font-size", 17.8).attr("fill", "#222")
            .text("Slough surface water depth,cm");
    }

    // range annotation
    if (p.noteY) {
        defs.append("marker").attr("id", "head-" + p.id)
            .attr("viewBox", "0 0 10 12").attr("refX", 9.5).attr("refY", 6)
            .attr("markerWidth", 10).attr("markerHeight", 12)
            .attr("orient", "auto-start-reverse").attr("markerUnits", "userSpaceOnUse")
            .append("path").attr("d", "M0,0L9.5,6L0,12").attr("fill", "none").attr("stroke", "#111").attr("stroke-width", 1.6);
        g.append("line")
            .attr("x1", x(presentDayRange[0])).attr("x2", x(presentDayRange[1]))
            .attr("y1", y(p.arrowDepth)).attr("y2", y(p.arrowDepth))
            .attr("stroke", "#111").attr("stroke-width", 1.5)
            .attr("marker-start", "url(#head-" + p.id + ")")
            .attr("marker-end", "url(#head-" + p.id + ")");
        g.selectAll("text.note")
            .data(["range of present-day Everglades", "water surface slopes"])
            .enter().append("text")
            .attr("class", "note")
            .attr("x", p.noteX)
            .attr("y", (d, i) => p.noteY + i * 17.5)
            .attr("font-size", p.noteSize)
            .attr("fill", "#222")
            .text(d => d);
    }

    // colour bar
    let barY = d3.scaleLinear().domain([-65, 100]).range([p.bottom, p.top]);
    let bar = g.append("g");
    bar.append("rect")
        .attr("x", p.barX).attr("y", barY(2.5))
        .attr("width", p.barW).attr("height", barY(-65) - barY(2.5))
        .attr("fill", "#000");
    bar.selectAll("rect.band")
        .data(bands)
        .enter().append("rect")
        .attr("class", "band")
        .attr("x", p.barX)
        .attr("y", d => barY(Math.min(100, d + bandStep)))
        .attr("width", p.barW)
        .attr("height", d => barY(d) - barY(Math.min(100, d + bandStep)) + 0.4)
        .attr("fill", d => hot(d + bandStep / 2));
    bar.append("rect")
        .attr("x", p.barX).attr("y", p.top)
        .attr("width", p.barW).attr("height", p.bottom - p.top)
        .attr("fill", "none").attr("stroke", "#b2b2b2").attr("stroke-width", 1);
    bar.selectAll("line")
        .data(colorTicks)
        .enter().append("line")
        .attr("x1", p.barX + p.barW - 4).attr("x2", p.barX + p.barW)
        .attr("y1", d => barY(d * 1000)).attr("y2", d => barY(d * 1000))
        .attr("stroke", "#b2b2b2");
    bar.selectAll("text.tick")
        .data(colorTicks)
        .enter().append("text")
        .attr("class", "tick")
        .attr("x", p.barLabelX)
        .attr("y", d => barY(d * 1000))
        .attr("dy", ".36em")
        .attr("font-size", 15)
        .attr("fill", "#1a1a1a")
        .text(d => String(d));
    bar.append("text")
        .attr("x", p.barLabelX)
        .attr("y", p.top + 8)
        .attr("font-size", 15)
        .attr("fill", "#1a1a1a")
        .text("≥0.1");
    let barTitle = bar.append("text")
        .attr("x", p.barTitleX).attr("y", p.barTitleY)
        .attr("font-size", 15).attr("fill", "#222").text("τ");
    barTitle.append("tspan").attr("dy", 3).attr("font-size", 9).text("0");
    barTitle.append("tspan").attr("dy", -3).text(" differential, Pa");
}
</script>
</body>
</html>
